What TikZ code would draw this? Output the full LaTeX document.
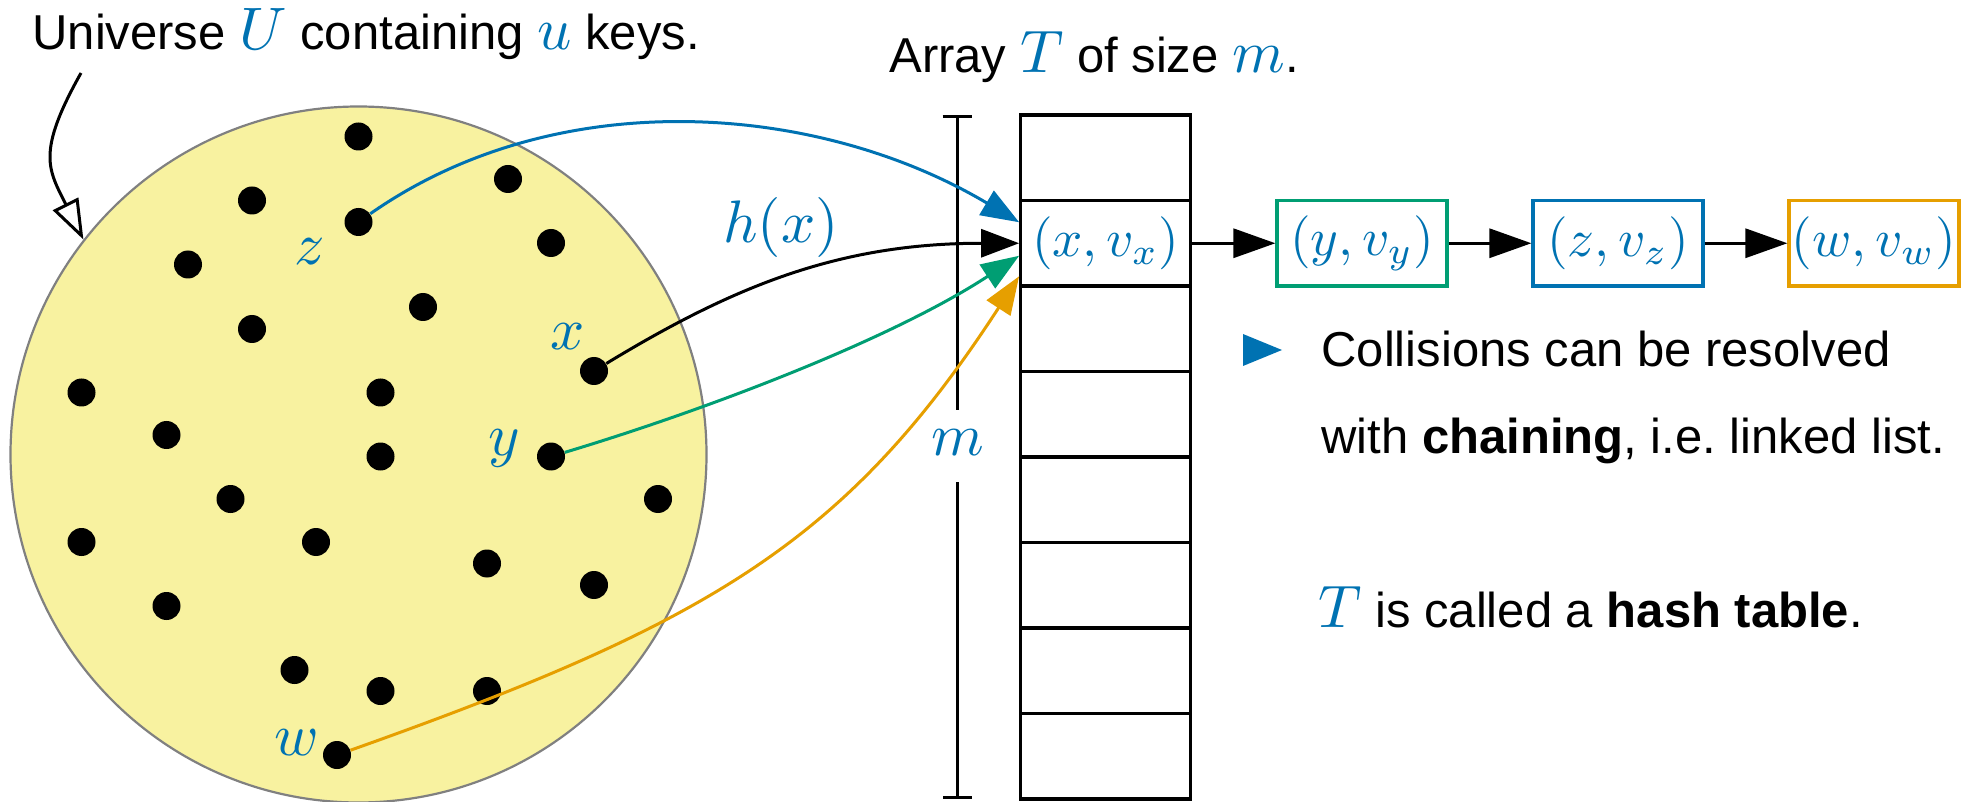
\documentclass[tikz,border=0pt]{standalone}
\usepackage[no-math]{fontspec}
\usepackage{graphicx}
\setmainfont{Liberation Sans}
\usetikzlibrary{arrows.meta,calc}
\definecolor{cblue}{HTML}{0072B2}
\definecolor{cgreen}{HTML}{009E73}
\definecolor{corange}{HTML}{E69F00}
\definecolor{cyellow}{HTML}{F0E442}
\definecolor{cgray}{HTML}{808080}
\newcommand\TX{\fontsize{24.5}{30}\selectfont}
\newcommand\MB[1]{\scalebox{3.0}{\fontsize{10}{12}\selectfont\color{cblue}$#1$}}
\newcommand\MS[1]{\scalebox{2.65}{\fontsize{10}{12}\selectfont\color{cblue}$#1$}}
\tikzset{
  dot/.style={circle,fill=black,inner sep=0pt,minimum size=14pt},
  cell/.style={draw,line width=1.6pt,minimum width=85pt,minimum height=42.75pt,inner sep=0pt},
  lab/.style={anchor=base,inner sep=0pt},
  conn/.style={line width=1.5pt,-{Triangle[length=19pt,width=14pt]}},
  chain/.style={line width=1.6pt,-{Triangle[length=21pt,width=14.5pt]}},
  txt/.style={anchor=base west,inner sep=0pt,font=\TX},
}
\begin{document}
\begin{tikzpicture}[x=0.5pt,y=-0.5pt]
\useasboundingbox (0,0) rectangle (1972,802);
% universe
\node[circle,draw=cgray,line width=1.1pt,fill=cyellow!50,minimum size=348pt,inner sep=0pt] (U) at (358.5,454.5) {};
\foreach \n/\px/\py in {1/358.5/136.5,2/508/179,3/252/200.5,4/358.5/222,5/551/243,
  6/188/264.5,7/423/307,8/252/329,9/594/371,10/81.5/392.5,11/380.5/392.5,
  12/166.5/435,13/380.5/456.5,14/551/456.5,15/230.5/499,16/658/499,17/81.5/542,
  18/316/542,19/487/563.5,20/594/585,21/166.5/606,22/294.5/670,23/380.5/691,
  24/487/691,25/337/755}
  \node[dot] (d\n) at (\px,\py) {};
\node[lab] (lz) at (310,265) {\MB{z}};
\node[lab] (lx) at (568,350) {\MB{x}};
\node[lab] (ly) at (504,455) {\MB{y}};
\node[lab] (lw) at (296.6,755) {\MB{w}};
% titles
\node[txt] (title) at (32,50) {Universe \MB{U} containing \MB{u} keys.};
\node[txt] (arrt) at (889,73) {Array \MB{T} of size \MB{m}.};
% pointer
\coordinate (pstart) at (81,73);
\draw[line width=1.5pt,-{Triangle[fill=white,length=20pt,width=14pt]}] (pstart) .. controls +(-45,80) and +(-35,-70) .. (U.142.65);
% array
\node[cell] (r1) at (1105.75,157.75) {};
\node[cell] (r2) at (1105.75,243.25) {\MS{(x,v_x)}};
\node[cell] (r3) at (1105.75,328.75) {};
\node[cell] (r4) at (1105.75,414.25) {};
\node[cell] (r5) at (1105.75,499.75) {};
\node[cell] (r6) at (1105.75,585.25) {};
\node[cell] (r7) at (1105.75,670.75) {};
\node[cell] (r8) at (1105.75,756.25) {};
% m bar
\coordinate (mt) at (957,115);
\coordinate (mg1) at (957,410);
\coordinate (mg2) at (957,482);
\coordinate (mb) at (957,799);
\node[lab] (ml) at (957.5,455) {\MB{m}};
\draw[line width=1.5pt,{Bar[width=14.5pt]}-] (mt) -- (mg1);
\draw[line width=1.5pt,-{Bar[width=14.5pt]}] (mg2) -- (mb);
% incoming
\coordinate (tz) at ($(r2.west)+(0,-21)$);
\coordinate (ty) at ($(r2.west)+(0,12.5)$);
\coordinate (tw) at ($(r2.west)+(0,33)$);
\draw[conn,cblue] (d4) .. controls +(200,-140) and +(-200,-119) .. (tz);
\draw[conn] (d9) .. controls +(140,-85) and +(-180,0) .. (r2.west);
\draw[conn,cgreen] (d14) .. controls +(150,-45) and +(-130,85) .. (ty);
\draw[conn,corange] (d25) .. controls +(372,-132) and +(-173,266) .. (tw);
\node[lab] (hx) at (781,243) {\MB{h(x)}};
% chain
\node[cell,draw=cgreen] (cy) at (1362,243.25) {\MS{(y,v_y)}};
\node[cell,draw=cblue] (cz) at (1618,243.25) {\MS{(z,v_z)}};
\node[cell,draw=corange] (cw) at (1874,243.25) {\MS{(w,v_w)}};
\draw[chain] (r2) -- (cy);
\draw[chain] (cy) -- (cz);
\draw[chain] (cz) -- (cw);
% text
\fill[cblue] (1243,334) -- (1282,350) -- (1243,366) -- cycle;
\node[txt] (c1) at (1321,366) {Collisions can be resolved};
\node[txt] (c2) at (1321,453) {with \textbf{chaining}, i.e.\ linked list.};
\node[txt] (c3) at (1318,627) {\MB{T} is called a \textbf{hash table}.};
\end{tikzpicture}
\end{document}
